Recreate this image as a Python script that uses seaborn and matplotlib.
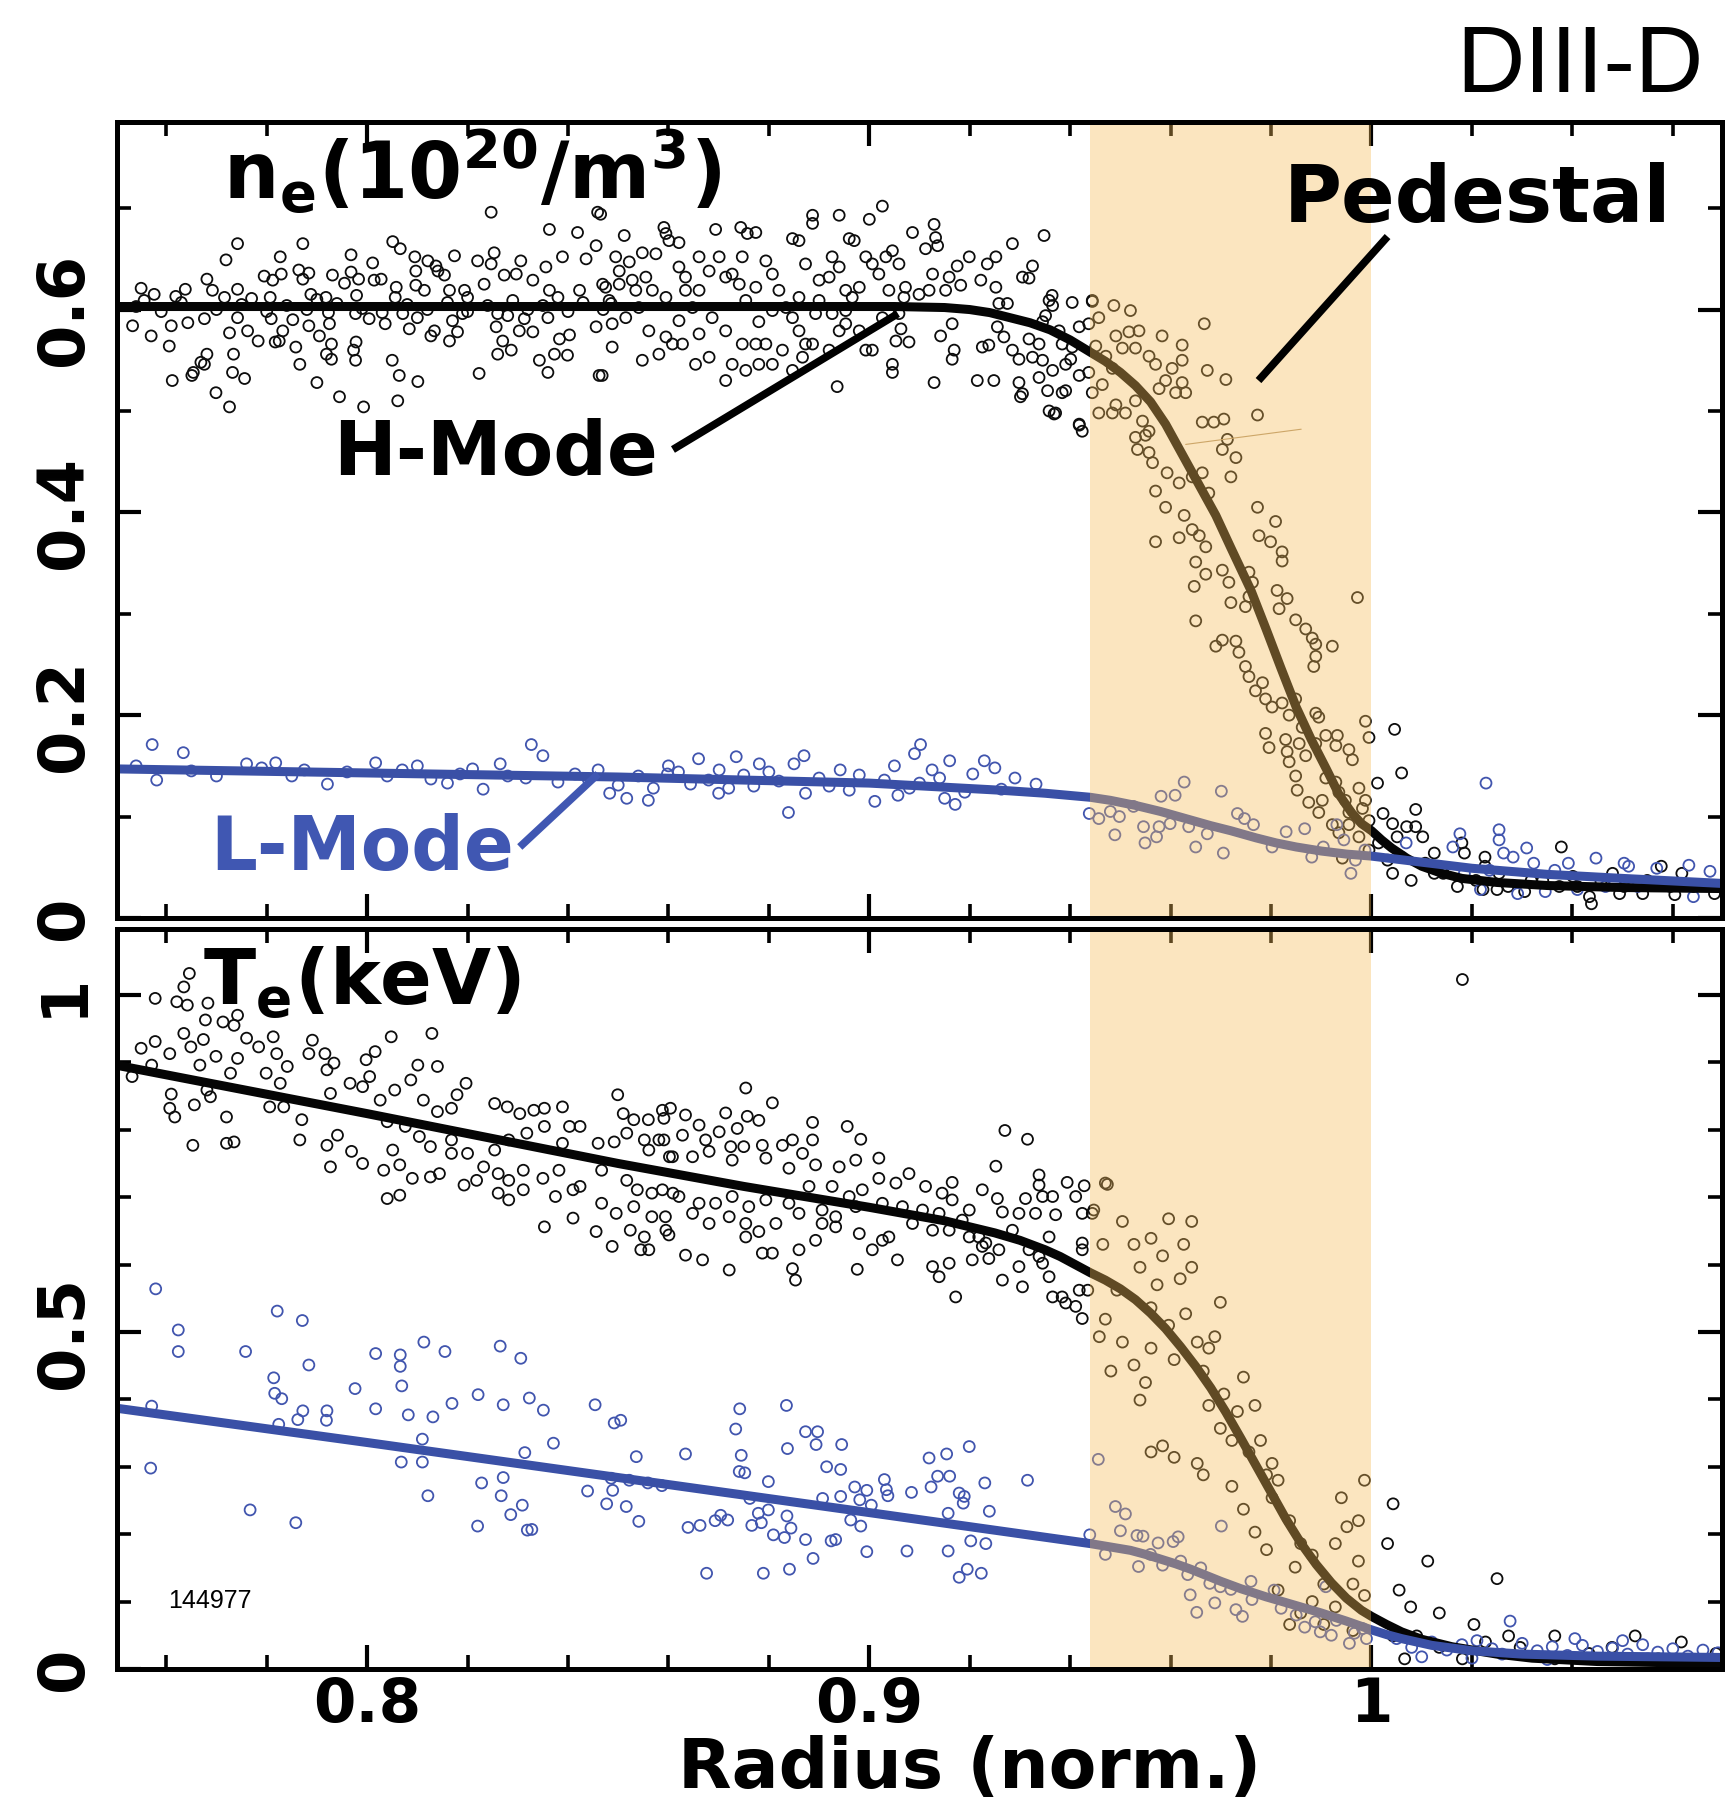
import matplotlib
matplotlib.use("Agg")
import numpy as np
import matplotlib.pyplot as plt
from matplotlib.ticker import MultipleLocator
import seaborn as sns

sns.set_theme(style="ticks")
plt.rcParams["font.family"] = ["DejaVu Sans"]
plt.rcParams["mathtext.fontset"] = "dejavusans"
plt.rcParams.update({"text.color": "black", "axes.labelcolor": "black",
                     "xtick.color": "black", "ytick.color": "black",
                     "axes.edgecolor": "black"})

# ---------------------------------------------------------------------------
# Shot 144977 edge profiles: (normalised radius, value) measurements
# ---------------------------------------------------------------------------
# Electron density, H-mode (10^20 m^-3)
ne_h = [
    (0.7550, 0.621), (0.7576, 0.615), (0.7556, 0.609), (0.7533, 0.584), (0.7570, 0.574), (0.7610, 0.584),
    (0.7606, 0.564), (0.7612, 0.530), (0.7619, 0.613), (0.7638, 0.620), (0.7643, 0.587), (0.7651, 0.535),
    (0.7654, 0.538), (0.7669, 0.548), (0.7681, 0.556), (0.7676, 0.546), (0.7681, 0.630), (0.7692, 0.619),
    (0.7676, 0.591), (0.7699, 0.518), (0.7719, 0.649), (0.7716, 0.612), (0.7726, 0.504), (0.7734, 0.556),
    (0.7732, 0.538), (0.7756, 0.532), (0.7742, 0.665), (0.7742, 0.620), (0.7742, 0.592), (0.7726, 0.577),
    (0.7762, 0.579), (0.7783, 0.569), (0.7795, 0.633), (0.7807, 0.612), (0.7812, 0.629), (0.7827, 0.652),
    (0.7829, 0.635), (0.7809, 0.591), (0.7817, 0.568), (0.7825, 0.569), (0.7832, 0.579), (0.7852, 0.590),
    (0.7858, 0.563), (0.7866, 0.546), (0.7872, 0.665), (0.7864, 0.639), (0.7884, 0.636), (0.7872, 0.630),
    (0.7888, 0.615), (0.7884, 0.584), (0.7905, 0.574), (0.7900, 0.528), (0.7918, 0.612), (0.7923, 0.597),
    (0.7925, 0.586), (0.7929, 0.566), (0.7919, 0.556), (0.7929, 0.551), (0.7931, 0.634), (0.7945, 0.514),
    (0.7955, 0.626), (0.7968, 0.654), (0.7968, 0.637), (0.7983, 0.630), (0.7979, 0.614), (0.7977, 0.596),
    (0.7978, 0.568), (0.7973, 0.560), (0.7977, 0.550), (0.7993, 0.504), (0.8004, 0.591), (0.8011, 0.646),
    (0.8014, 0.629), (0.8028, 0.630), (0.8036, 0.586), (0.8050, 0.550), (0.8051, 0.667), (0.8066, 0.660),
    (0.8058, 0.622), (0.8056, 0.612), (0.8064, 0.535), (0.8061, 0.510), (0.8101, 0.529), (0.8071, 0.596),
    (0.8084, 0.581), (0.8095, 0.652), (0.8097, 0.638), (0.8097, 0.624), (0.8114, 0.619), (0.8121, 0.648),
    (0.8137, 0.643), (0.8141, 0.638), (0.8134, 0.579), (0.8127, 0.574), (0.8154, 0.634), (0.8164, 0.619),
    (0.8164, 0.569), (0.8170, 0.589), (0.8174, 0.653), (0.8180, 0.578), (0.8190, 0.596), (0.8194, 0.619),
    (0.8220, 0.648), (0.8223, 0.537), (0.8233, 0.625), (0.8247, 0.696), (0.8253, 0.656), (0.8247, 0.645),
    (0.8257, 0.583), (0.8260, 0.556), (0.8270, 0.569), (0.8273, 0.634), (0.8280, 0.594), (0.8287, 0.560),
    (0.8306, 0.648), (0.8297, 0.635), (0.8313, 0.591), (0.8303, 0.579), (0.8330, 0.629), (0.8330, 0.578),
    (0.8343, 0.550), (0.8360, 0.538), (0.8363, 0.679), (0.8356, 0.642), (0.8363, 0.619), (0.8360, 0.592),
    (0.8373, 0.556), (0.8389, 0.652), (0.8383, 0.571), (0.8403, 0.575), (0.8399, 0.555), (0.8419, 0.676),
    (0.8423, 0.619), (0.8436, 0.650), (0.8456, 0.663), (0.8459, 0.696), (0.8456, 0.583), (0.8462, 0.535),
    (0.8469, 0.625), (0.8486, 0.606),
    (0.7540, 0.603), (0.7590, 0.598), (0.7630, 0.607), (0.7700, 0.600), (0.7750, 0.605), (0.7800, 0.598),
    (0.7840, 0.604), (0.7880, 0.600), (0.7940, 0.606), (0.7990, 0.601), (0.8030, 0.597), (0.8080, 0.605),
    (0.8120, 0.600), (0.8160, 0.607), (0.8200, 0.598), (0.8240, 0.604), (0.8290, 0.609), (0.8320, 0.600),
    (0.8350, 0.604), (0.8400, 0.598), (0.8430, 0.607), (0.8470, 0.600), (0.8200, 0.612), (0.8100, 0.592),
    (0.7900, 0.610), (0.7770, 0.611), (0.8380, 0.612), (0.8260, 0.596),
    (0.8465, 0.694), (0.8512, 0.673), (0.8591, 0.681), (0.8595, 0.675), (0.8601, 0.668), (0.8621, 0.666),
    (0.8694, 0.679), (0.8744, 0.681), (0.8757, 0.675), (0.8774, 0.676), (0.8847, 0.670), (0.8860, 0.668),
    (0.8887, 0.693), (0.8887, 0.685), (0.8940, 0.693), (0.9000, 0.689), (0.9026, 0.702), (0.8960, 0.670),
    (0.8970, 0.668), (0.9086, 0.676), (0.9129, 0.684), (0.9132, 0.671), (0.9136, 0.663), (0.9112, 0.660),
    (0.9199, 0.652), (0.9252, 0.652), (0.9235, 0.645), (0.9285, 0.665), (0.9348, 0.673), (0.9325, 0.643),
    (0.9305, 0.632), (0.9318, 0.631), (0.9175, 0.643), (0.9159, 0.632), (0.9126, 0.635), (0.9119, 0.619),
    (0.9152, 0.619), (0.9182, 0.624), (0.9222, 0.629), (0.9252, 0.622), (0.9258, 0.606), (0.9275, 0.606),
    (0.9404, 0.607), (0.9444, 0.609), (0.9165, 0.586), (0.9142, 0.574), (0.9169, 0.560), (0.9165, 0.551),
    (0.9072, 0.622), (0.9099, 0.615), (0.9069, 0.612), (0.9059, 0.596), (0.9063, 0.581), (0.9053, 0.569),
    (0.9079, 0.568), (0.9046, 0.546), (0.9046, 0.538), (0.8993, 0.560), (0.9006, 0.560), (0.8936, 0.524),
    (0.9129, 0.528), (0.9215, 0.530), (0.9248, 0.530), (0.9298, 0.528), (0.9305, 0.517), (0.9301, 0.514),
    (0.9358, 0.500), (0.9368, 0.497), (0.9391, 0.520), (0.9418, 0.487), (0.9225, 0.563), (0.9238, 0.565),
    (0.9255, 0.583), (0.9268, 0.573), (0.9285, 0.560), (0.9298, 0.551), (0.9318, 0.571), (0.9338, 0.566),
    (0.9345, 0.588), (0.9351, 0.594), (0.9358, 0.609), (0.9365, 0.604), (0.9378, 0.579), (0.9384, 0.566),
    (0.9391, 0.546), (0.9345, 0.550), (0.9338, 0.533), (0.9365, 0.540), (0.9404, 0.563), (0.9418, 0.583),
    (0.9418, 0.535), (0.9401, 0.551), (0.9325, 0.553), (0.9355, 0.520),
    (0.8495, 0.652), (0.8522, 0.647), (0.8548, 0.656), (0.8575, 0.655), (0.8555, 0.632), (0.8528, 0.629),
    (0.8502, 0.625), (0.8475, 0.622), (0.8482, 0.609), (0.8488, 0.586), (0.8515, 0.592), (0.8541, 0.602),
    (0.8561, 0.579), (0.8595, 0.573), (0.8621, 0.589), (0.8648, 0.602), (0.8661, 0.619), (0.8634, 0.632),
    (0.8661, 0.652), (0.8681, 0.638), (0.8701, 0.652), (0.8714, 0.632), (0.8727, 0.635), (0.8741, 0.625),
    (0.8754, 0.609), (0.8774, 0.622), (0.8794, 0.648), (0.8807, 0.635), (0.8820, 0.619), (0.8834, 0.602),
    (0.8847, 0.592), (0.8860, 0.579), (0.8873, 0.566), (0.8827, 0.560), (0.8794, 0.566), (0.8774, 0.566),
    (0.8747, 0.566), (0.8727, 0.546), (0.8754, 0.540), (0.8780, 0.546), (0.8807, 0.546), (0.8681, 0.553),
    (0.8654, 0.546), (0.8628, 0.566), (0.8608, 0.566), (0.8581, 0.556), (0.8548, 0.550), (0.8488, 0.563),
    (0.8468, 0.535), (0.8714, 0.530), (0.8847, 0.540), (0.8867, 0.553), (0.8887, 0.566), (0.8900, 0.609),
    (0.8920, 0.632), (0.8926, 0.652), (0.8940, 0.642), (0.8953, 0.619), (0.8966, 0.612), (0.8980, 0.622),
    (0.8993, 0.652), (0.9006, 0.645), (0.9019, 0.635), (0.9033, 0.652), (0.9046, 0.658), (0.9059, 0.645),
    (0.9039, 0.619), (0.9026, 0.592), (0.8980, 0.579), (0.8953, 0.586), (0.8926, 0.596), (0.8893, 0.596),
    (0.8860, 0.612), (0.8807, 0.599), (0.8780, 0.588), (0.8714, 0.579), (0.8687, 0.592), (0.8661, 0.576),
    (0.8634, 0.619), (0.8595, 0.612), (0.8568, 0.619), (0.8535, 0.619), (0.8502, 0.638), (0.8621, 0.642),
    (0.8747, 0.652), (0.8873, 0.645), (0.8900, 0.629), (0.8920, 0.560), (0.8940, 0.579), (0.8953, 0.599),
    (0.9364, 0.614), (0.9384, 0.518), (0.9371, 0.498), (0.9418, 0.486), (0.9424, 0.480),
    (0.9444, 0.608), (0.9487, 0.604), (0.9520, 0.599), (0.9457, 0.592), (0.9491, 0.574), (0.9517, 0.578),
    (0.9537, 0.579), (0.9583, 0.574), (0.9623, 0.565), (0.9667, 0.586), (0.9673, 0.540), (0.9710, 0.531),
    (0.9773, 0.496), (0.9663, 0.489), (0.9686, 0.489), (0.9706, 0.492), (0.9713, 0.472), (0.9703, 0.462),
    (0.9730, 0.454), (0.9720, 0.435), (0.9534, 0.462), (0.9557, 0.459), (0.9564, 0.449), (0.9593, 0.439),
    (0.9570, 0.421), (0.9590, 0.405), (0.9617, 0.429), (0.9643, 0.435), (0.9663, 0.439), (0.9676, 0.419),
    (0.9570, 0.371), (0.9617, 0.375), (0.9627, 0.397), (0.9643, 0.383), (0.9657, 0.377), (0.9670, 0.366),
    (0.9650, 0.351), (0.9647, 0.327), (0.9650, 0.293), (0.9773, 0.405), (0.9809, 0.391), (0.9776, 0.377),
    (0.9799, 0.371), (0.9822, 0.361), (0.9822, 0.352), (0.9670, 0.339), (0.9703, 0.343), (0.9716, 0.331),
    (0.9756, 0.341), (0.9763, 0.331), (0.9720, 0.311), (0.9749, 0.307), (0.9756, 0.317), (0.9812, 0.323),
    (0.9832, 0.315), (0.9816, 0.305), (0.9972, 0.316), (0.9849, 0.294), (0.9869, 0.285), (0.9882, 0.276),
    (0.9889, 0.270), (0.9922, 0.268), (0.9889, 0.258), (0.9885, 0.248), (0.9690, 0.268), (0.9703, 0.274),
    (0.9730, 0.273), (0.9736, 0.262), (0.9749, 0.248), (0.9756, 0.238), (0.9783, 0.232), (0.9769, 0.224),
    (0.9789, 0.216), (0.9802, 0.208), (0.9822, 0.212), (0.9849, 0.216), (0.9836, 0.200), (0.9889, 0.202),
    (0.9895, 0.198), (0.9862, 0.188), (0.9789, 0.182), (0.9796, 0.168), (0.9829, 0.176), (0.9832, 0.164),
    (0.9836, 0.154), (0.9856, 0.172), (0.9869, 0.160), (0.9889, 0.172), (0.9909, 0.180), (0.9932, 0.180),
    (0.9929, 0.170), (0.9955, 0.166), (0.9962, 0.156), (0.9988, 0.194), (0.9995, 0.178), (0.9849, 0.140),
    (0.9852, 0.126), (0.9875, 0.114), (0.9902, 0.116), (0.9909, 0.138), (0.9929, 0.134), (0.9935, 0.124),
    (0.9948, 0.116), (0.9955, 0.104), (0.9975, 0.128), (0.9988, 0.116), (0.9895, 0.104), (0.9922, 0.092),
    (0.9935, 0.084), (0.9955, 0.092), (0.9982, 0.108), (0.9995, 0.096), (0.9975, 0.080), (0.9995, 0.067),
    (0.9942, 0.059), (0.9437, 0.586), (0.9451, 0.564), (0.9471, 0.554), (0.9484, 0.542), (0.9504, 0.562),
    (0.9530, 0.562), (0.9557, 0.554), (0.9570, 0.546), (0.9603, 0.542), (0.9623, 0.550), (0.9444, 0.518),
    (0.9464, 0.526), (0.9491, 0.506), (0.9510, 0.498), (0.9530, 0.510), (0.9544, 0.490), (0.9557, 0.480),
    (0.9577, 0.522), (0.9590, 0.530), (0.9610, 0.518), (0.9630, 0.518), (0.9623, 0.528), (0.9437, 0.538),
    (0.9457, 0.498), (0.9484, 0.498), (0.9530, 0.474), (0.9550, 0.476),
    (1.0046, 0.186), (1.0060, 0.143), (1.0012, 0.133), (1.0088, 0.107), (1.0070, 0.090), (1.0088, 0.090),
    (1.0102, 0.080), (1.0023, 0.103), (1.0042, 0.093), (1.0051, 0.080), (1.0014, 0.074), (1.0032, 0.057),
    (1.0042, 0.044), (1.0079, 0.037), (1.0125, 0.064), (1.0143, 0.044), (1.0180, 0.074), (1.0185, 0.064),
    (1.0226, 0.060), (1.0226, 0.051), (1.0254, 0.044), (1.0222, 0.028), (1.0250, 0.028), (1.0305, 0.026),
    (1.0378, 0.070), (1.0401, 0.041), (1.0438, 0.014), (1.0434, 0.021), (1.0480, 0.044), (1.0494, 0.024),
    (1.0540, 0.024), (1.0577, 0.051), (1.0618, 0.044), (1.0604, 0.023), (1.0683, 0.024), (1.0341, 0.037),
    (1.0374, 0.031), (1.0457, 0.036), (1.0549, 0.037), (1.0641, 0.031), (1.0208, 0.037), (1.0272, 0.031),
    (1.0318, 0.037), (1.0410, 0.031), (1.0503, 0.031), (1.0595, 0.031), (1.0171, 0.031), (1.0125, 0.044),
    (1.0107, 0.054),
]

# Electron density, L-mode (10^20 m^-3)
ne_l = [
    (0.7572, 0.171), (0.7634, 0.163), (0.7581, 0.136), (0.7760, 0.152), (0.7818, 0.153), (0.7875, 0.146),
    (0.7921, 0.132), (0.8017, 0.153), (0.8070, 0.146), (0.8127, 0.137), (0.8185, 0.142), (0.8265, 0.152),
    (0.8327, 0.171), (0.8316, 0.138), (0.8231, 0.127), (0.8414, 0.142), (0.8483, 0.123), (0.8517, 0.118),
    (0.8598, 0.142), (0.8644, 0.132), (0.8701, 0.146), (0.8735, 0.159), (0.8781, 0.152), (0.8839, 0.104),
    (0.8873, 0.123), (0.8942, 0.146), (0.9011, 0.115), (0.9057, 0.121), (0.9102, 0.171), (0.9125, 0.146),
    (0.9171, 0.112), (0.9206, 0.142), (0.9229, 0.155), (0.9263, 0.127), (0.9332, 0.132),
    (0.7540, 0.150), (0.7650, 0.145), (0.7700, 0.140), (0.7790, 0.148), (0.7850, 0.140), (0.7960, 0.144),
    (0.8040, 0.140), (0.8100, 0.150), (0.8160, 0.133), (0.8210, 0.147), (0.8280, 0.140), (0.8350, 0.160),
    (0.8380, 0.134), (0.8440, 0.137), (0.8460, 0.146), (0.8500, 0.131), (0.8540, 0.140), (0.8570, 0.128),
    (0.8620, 0.144), (0.8660, 0.157), (0.8680, 0.136), (0.8720, 0.128), (0.8750, 0.141), (0.8770, 0.130),
    (0.8800, 0.144), (0.8820, 0.135), (0.8850, 0.152), (0.8900, 0.138), (0.8920, 0.130), (0.8960, 0.126),
    (0.8980, 0.141), (0.9030, 0.136), (0.9050, 0.150), (0.9080, 0.128), (0.9090, 0.162), (0.9140, 0.138),
    (0.9160, 0.155), (0.9190, 0.124), (0.9250, 0.148), (0.9290, 0.138), (0.9150, 0.118), (0.9100, 0.133),
    (0.8870, 0.160), (0.8700, 0.123), (0.8600, 0.150), (0.8560, 0.116),
    (0.9627, 0.134), (0.9581, 0.120), (0.9609, 0.121), (0.9438, 0.103), (0.9457, 0.098), (0.9480, 0.105),
    (0.9498, 0.100), (0.9489, 0.082), (0.9546, 0.090), (0.9549, 0.074), (0.9577, 0.090), (0.9572, 0.080),
    (0.9599, 0.093), (0.9636, 0.090), (0.9650, 0.070), (0.9673, 0.083), (0.9705, 0.064), (0.9701, 0.125),
    (0.9733, 0.103), (0.9747, 0.098), (0.9802, 0.070), (0.9830, 0.085), (0.9867, 0.088), (0.9881, 0.060),
    (0.9904, 0.070), (0.9931, 0.092), (0.9945, 0.077), (0.9959, 0.044), (0.9968, 0.057), (0.9987, 0.067),
    (0.9526, 0.110), (0.9765, 0.092),
    (1.0228, 0.133), (1.0176, 0.083), (1.0254, 0.087), (1.0254, 0.077), (1.0263, 0.064), (1.0309, 0.069),
    (1.0282, 0.060), (1.0323, 0.054), (1.0365, 0.047), (1.0447, 0.059), (1.0503, 0.054), (1.0512, 0.051),
    (1.0568, 0.049), (1.0632, 0.052), (1.0674, 0.046), (1.0641, 0.021), (1.0217, 0.028), (1.0291, 0.024),
    (1.0346, 0.026), (1.0410, 0.028), (1.0466, 0.031), (1.0530, 0.031), (1.0595, 0.033), (1.0162, 0.070),
    (1.0185, 0.044), (1.0235, 0.047), (1.0392, 0.054), (1.0069, 0.074), (1.0060, 0.060),
]

# Electron temperature, H-mode (keV)
te_h = [
    (0.7646, 1.032), (0.7635, 1.012), (0.7578, 0.995), (0.7621, 0.990), (0.7642, 0.985), (0.7683, 0.988),
    (0.7678, 0.963), (0.7713, 0.960), (0.7735, 0.955), (0.7742, 0.970), (0.7635, 0.943), (0.7674, 0.934),
    (0.7649, 0.923), (0.7607, 0.913), (0.7578, 0.931), (0.7550, 0.921), (0.7571, 0.896), (0.7532, 0.879),
    (0.7610, 0.853), (0.7607, 0.832), (0.7617, 0.819), (0.7656, 0.837), (0.7688, 0.849), (0.7681, 0.859),
    (0.7667, 0.896), (0.7699, 0.909), (0.7728, 0.884), (0.7742, 0.906), (0.7720, 0.819), (0.7653, 0.777),
    (0.7720, 0.780), (0.7735, 0.782), (0.7760, 0.936), (0.7784, 0.923), (0.7813, 0.938), (0.7820, 0.913),
    (0.7799, 0.884), (0.7841, 0.894), (0.7827, 0.869), (0.7806, 0.834), (0.7834, 0.834), (0.7870, 0.815),
    (0.7866, 0.785), (0.7884, 0.913), (0.7891, 0.933), (0.7916, 0.913), (0.7934, 0.899), (0.7920, 0.889),
    (0.7927, 0.854), (0.7920, 0.777), (0.7941, 0.792), (0.7927, 0.745), (0.7966, 0.869), (0.7991, 0.864),
    (0.7998, 0.904), (0.8016, 0.916), (0.8005, 0.879), (0.8026, 0.844), (0.8048, 0.938), (0.8055, 0.859),
    (0.8087, 0.874), (0.8101, 0.896), (0.8140, 0.894), (0.8129, 0.943), (0.8112, 0.844), (0.8140, 0.827),
    (0.8179, 0.852), (0.8197, 0.869), (0.8168, 0.832), (0.8040, 0.812), (0.8076, 0.805), (0.8051, 0.770),
    (0.7969, 0.768), (0.7991, 0.750), (0.8033, 0.740), (0.8065, 0.748), (0.8040, 0.698), (0.8065, 0.703),
    (0.8104, 0.790), (0.8126, 0.775), (0.8090, 0.728), (0.8126, 0.730), (0.8144, 0.735), (0.8168, 0.785),
    (0.8168, 0.765), (0.8200, 0.765), (0.8193, 0.718), (0.8218, 0.725), (0.8254, 0.839), (0.8279, 0.834),
    (0.8304, 0.824), (0.8332, 0.829), (0.8353, 0.832), (0.8389, 0.834), (0.8403, 0.805), (0.8424, 0.805),
    (0.8254, 0.770), (0.8282, 0.785), (0.8318, 0.795), (0.8353, 0.805), (0.8389, 0.780), (0.8232, 0.745),
    (0.8261, 0.735), (0.8282, 0.725), (0.8311, 0.740), (0.8350, 0.728), (0.8382, 0.740), (0.8410, 0.711),
    (0.8282, 0.696), (0.8261, 0.706), (0.8311, 0.711), (0.8353, 0.656), (0.8410, 0.669), (0.8456, 0.649),
    (0.8375, 0.701), (0.8424, 0.716), (0.8460, 0.780), (0.8492, 0.782), (0.8499, 0.852), (0.8510, 0.824),
    (0.8531, 0.815), (0.8560, 0.815), (0.8588, 0.829), (0.8517, 0.795), (0.8552, 0.785), (0.8581, 0.785),
    (0.8467, 0.740), (0.8517, 0.725), (0.8538, 0.711), (0.8567, 0.706), (0.8467, 0.691), (0.8496, 0.676),
    (0.8524, 0.651), (0.8552, 0.641), (0.8488, 0.627), (0.8545, 0.622), (0.8531, 0.686), (0.8567, 0.671),
    (0.8595, 0.651), (0.8609, 0.706), (0.8602, 0.760),
    (0.8754, 0.862), (0.8807, 0.840), (0.8604, 0.832), (0.8634, 0.822), (0.8591, 0.817), (0.8714, 0.825),
    (0.8757, 0.820), (0.8780, 0.814), (0.8737, 0.802), (0.8661, 0.807), (0.8701, 0.797), (0.8887, 0.811),
    (0.8956, 0.805), (0.8983, 0.786), (0.9270, 0.799), (0.9315, 0.786), (0.8591, 0.785), (0.8628, 0.792),
    (0.8674, 0.785), (0.8724, 0.775), (0.8750, 0.775), (0.8787, 0.777), (0.8827, 0.777), (0.8847, 0.785),
    (0.8887, 0.785), (0.9252, 0.746), (0.8561, 0.770), (0.8608, 0.760), (0.8648, 0.760), (0.8681, 0.768),
    (0.8727, 0.755), (0.8794, 0.758), (0.8840, 0.743), (0.8867, 0.765), (0.8893, 0.748), (0.8973, 0.755),
    (0.9019, 0.758), (0.8940, 0.745), (0.9079, 0.735), (0.9019, 0.728), (0.9053, 0.721), (0.9165, 0.722),
    (0.9225, 0.711), (0.9338, 0.733), (0.9338, 0.718), (0.9394, 0.722), (0.9428, 0.717), (0.9474, 0.719),
    (0.9112, 0.716), (0.9145, 0.706), (0.9165, 0.696), (0.9199, 0.681), (0.9255, 0.698), (0.9265, 0.678),
    (0.9311, 0.698), (0.9345, 0.701), (0.9365, 0.701), (0.9411, 0.701), (0.9298, 0.676), (0.9331, 0.676),
    (0.9371, 0.674), (0.9424, 0.676), (0.9444, 0.676), (0.8588, 0.711), (0.8621, 0.701), (0.8661, 0.691),
    (0.8694, 0.691), (0.8727, 0.701), (0.8760, 0.686), (0.8794, 0.696), (0.8840, 0.691), (0.8880, 0.716),
    (0.8926, 0.716), (0.8960, 0.701), (0.8986, 0.711), (0.8594, 0.671), (0.8648, 0.676), (0.8681, 0.661),
    (0.8721, 0.671), (0.8754, 0.661), (0.8780, 0.649), (0.8814, 0.661), (0.8860, 0.676), (0.8906, 0.681),
    (0.8933, 0.671), (0.8973, 0.686), (0.9026, 0.691), (0.9066, 0.686), (0.9106, 0.681), (0.9139, 0.676),
    (0.8561, 0.622), (0.8601, 0.644), (0.8634, 0.614), (0.8668, 0.607), (0.8721, 0.592), (0.8754, 0.641),
    (0.8787, 0.617), (0.8807, 0.617), (0.8847, 0.594), (0.8853, 0.577), (0.8860, 0.622), (0.8893, 0.636),
    (0.8906, 0.661), (0.8933, 0.656), (0.8980, 0.646), (0.9006, 0.622), (0.9026, 0.636), (0.9039, 0.641),
    (0.9086, 0.661), (0.9126, 0.651), (0.9159, 0.651), (0.9199, 0.641), (0.9225, 0.627), (0.9258, 0.622),
    (0.9238, 0.609), (0.9265, 0.577), (0.9056, 0.607), (0.8976, 0.593), (0.9126, 0.597), (0.9139, 0.582),
    (0.9159, 0.602), (0.9172, 0.552), (0.9205, 0.607), (0.9298, 0.597), (0.9305, 0.567), (0.9345, 0.602),
    (0.9358, 0.582), (0.9365, 0.552), (0.9384, 0.552), (0.9391, 0.543), (0.9411, 0.538), (0.9418, 0.562),
    (0.9424, 0.520), (0.9424, 0.622), (0.9424, 0.632), (0.9232, 0.632), (0.9185, 0.666), (0.9218, 0.641),
    (0.9318, 0.622), (0.9338, 0.612), (0.9358, 0.641), (0.9285, 0.651),
    (0.9470, 0.721), (0.9447, 0.681), (0.9504, 0.664), (0.9465, 0.630), (0.9527, 0.630), (0.9561, 0.639),
    (0.9584, 0.613), (0.9626, 0.630), (0.9619, 0.579), (0.9596, 0.668), (0.9573, 0.570), (0.9539, 0.596),
    (0.9493, 0.562), (0.9470, 0.519), (0.9504, 0.485), (0.9527, 0.451), (0.9550, 0.425), (0.9539, 0.399),
    (0.9561, 0.536), (0.9596, 0.510), (0.9630, 0.527), (0.9653, 0.485), (0.9665, 0.442), (0.9688, 0.493),
    (0.9699, 0.544), (0.9676, 0.391), (0.9653, 0.305), (0.9665, 0.288), (0.9607, 0.314), (0.9699, 0.357),
    (0.9733, 0.382), (0.9745, 0.433), (0.9756, 0.322), (0.9779, 0.339), (0.9791, 0.288), (0.9802, 0.254),
    (0.9814, 0.280), (0.9722, 0.271), (0.9745, 0.237), (0.9768, 0.203), (0.9791, 0.177), (0.9837, 0.220),
    (0.9859, 0.186), (0.9848, 0.151), (0.9882, 0.169), (0.9905, 0.126), (0.9928, 0.186), (0.9951, 0.211),
    (0.9974, 0.160), (0.9963, 0.126), (0.9986, 0.109), (0.9928, 0.092), (0.9882, 0.100), (0.9859, 0.083),
    (0.9837, 0.066), (0.9905, 0.066), (0.9963, 0.057), (0.9986, 0.280), (0.9974, 0.220), (0.9940, 0.254),
    (0.9458, 0.493), (0.9435, 0.562), (0.9481, 0.442), (0.9561, 0.322), (0.9584, 0.331), (0.9642, 0.664),
    (0.9642, 0.596), (0.9722, 0.339), (0.9814, 0.117), (0.9802, 0.305), (0.9768, 0.391), (0.9706, 0.408),
    (0.9676, 0.476), (0.9607, 0.459), (0.9561, 0.476),
    (1.0181, 1.023), (1.0043, 0.245), (1.0112, 0.160), (1.0032, 0.186), (1.0055, 0.117), (1.0078, 0.092),
    (1.0135, 0.083), (1.0090, 0.049), (1.0250, 0.134), (1.0204, 0.066), (1.0273, 0.049), (1.0365, 0.049),
    (1.0479, 0.032), (1.0617, 0.040), (1.0433, 0.023), (1.0296, 0.032), (1.0135, 0.032), (1.0181, 0.015),
    (1.0365, 0.015), (1.0571, 0.015), (1.0686, 0.023), (1.0066, 0.015), (1.0043, 0.049), (1.0227, 0.040),
    (1.0525, 0.049),
]

# Electron temperature, L-mode (keV)
te_l = [
    (0.7579, 0.564), (0.7624, 0.503), (0.7624, 0.471), (0.7571, 0.390), (0.7569, 0.298), (0.7758, 0.471),
    (0.7821, 0.531), (0.7871, 0.517), (0.7884, 0.451), (0.7814, 0.432), (0.7816, 0.409), (0.7830, 0.401),
    (0.7824, 0.363), (0.7862, 0.370), (0.7872, 0.383), (0.7920, 0.383), (0.7919, 0.369), (0.7767, 0.236),
    (0.7858, 0.217), (0.7976, 0.416), (0.8017, 0.468), (0.8066, 0.466), (0.8066, 0.449), (0.8069, 0.420),
    (0.8113, 0.485), (0.8155, 0.471), (0.8017, 0.386), (0.8082, 0.377), (0.8131, 0.374), (0.8110, 0.341),
    (0.8068, 0.307), (0.8110, 0.307), (0.8121, 0.257), (0.8169, 0.394), (0.8221, 0.407), (0.8265, 0.479),
    (0.8306, 0.461), (0.8271, 0.392), (0.8323, 0.402), (0.8351, 0.384), (0.8228, 0.276), (0.8271, 0.284),
    (0.8267, 0.257), (0.8309, 0.243), (0.8286, 0.229), (0.8220, 0.212), (0.8319, 0.206), (0.8328, 0.207),
    (0.8371, 0.335), (0.8314, 0.321), (0.8454, 0.392), (0.8492, 0.365), (0.8505, 0.369), (0.8536, 0.315),
    (0.8486, 0.283), (0.8522, 0.280), (0.8559, 0.276), (0.8587, 0.272), (0.8489, 0.265), (0.8439, 0.264),
    (0.8477, 0.245), (0.8516, 0.241), (0.8541, 0.219), (0.8634, 0.319), (0.8639, 0.210), (0.8663, 0.213),
    (0.8676, 0.142), (0.8693, 0.220), (0.8704, 0.228), (0.8718, 0.221), (0.8742, 0.386), (0.8734, 0.356),
    (0.8745, 0.317), (0.8741, 0.293), (0.8752, 0.291), (0.8799, 0.278), (0.8762, 0.253), (0.8779, 0.231),
    (0.8766, 0.213), (0.8785, 0.217), (0.8835, 0.391), (0.8837, 0.327), (0.8873, 0.352), (0.8897, 0.352),
    (0.8894, 0.333), (0.8945, 0.333), (0.8915, 0.300), (0.8943, 0.296), (0.8799, 0.236), (0.8836, 0.227),
    (0.8844, 0.209), (0.8809, 0.199), (0.8831, 0.195), (0.8873, 0.192), (0.8888, 0.164), (0.8789, 0.142),
    (0.8841, 0.148), (0.8907, 0.253), (0.8943, 0.256), (0.8924, 0.190), (0.8933, 0.192), (0.8971, 0.270),
    (0.8995, 0.265), (0.8981, 0.251), (0.9004, 0.243), (0.8983, 0.212), (0.8963, 0.221), (0.8995, 0.174),
    (0.9030, 0.281), (0.9034, 0.266), (0.9037, 0.257), (0.9084, 0.262), (0.9075, 0.175), (0.9119, 0.313),
    (0.9123, 0.270), (0.9154, 0.319), (0.9136, 0.286), (0.9160, 0.286), (0.9199, 0.330), (0.9179, 0.261),
    (0.9189, 0.256), (0.9187, 0.246), (0.9157, 0.231), (0.9230, 0.276), (0.9239, 0.234), (0.9202, 0.190),
    (0.9232, 0.186), (0.9157, 0.175), (0.9195, 0.148), (0.9179, 0.136), (0.9223, 0.142), (0.9315, 0.280),
    (0.9439, 0.199), (0.9456, 0.311),
    (0.9490, 0.241), (0.9510, 0.230), (0.9536, 0.152), (0.9584, 0.154), (0.9575, 0.187), (0.9533, 0.198),
    (0.9545, 0.197), (0.9605, 0.189), (0.9615, 0.196), (0.9634, 0.140), (0.9639, 0.110), (0.9652, 0.084),
    (0.9688, 0.098), (0.9699, 0.122), (0.9678, 0.127), (0.9701, 0.212), (0.9730, 0.088), (0.9743, 0.078),
    (0.9762, 0.103), (0.9806, 0.117), (0.9867, 0.062), (0.9898, 0.055), (0.9888, 0.070), (0.9909, 0.122),
    (0.9956, 0.038), (0.9966, 0.053), (0.9982, 0.060), (0.9560, 0.170), (0.9620, 0.160), (0.9660, 0.150),
    (0.9720, 0.118), (0.9760, 0.130), (0.9820, 0.090), (0.9850, 0.080), (0.9930, 0.072), (0.9990, 0.045),
    (0.9470, 0.170), (0.9500, 0.205), (0.9920, 0.050),
    (1.0276, 0.071), (1.0050, 0.045), (1.0080, 0.032), (1.0120, 0.040), (1.0150, 0.028), (1.0180, 0.036),
    (1.0210, 0.042), (1.0240, 0.030), (1.0260, 0.022), (1.0300, 0.038), (1.0330, 0.027), (1.0360, 0.033),
    (1.0390, 0.020), (1.0420, 0.035), (1.0450, 0.026), (1.0480, 0.031), (1.0510, 0.022), (1.0540, 0.036),
    (1.0570, 0.025), (1.0600, 0.030), (1.0630, 0.019), (1.0660, 0.028), (1.0690, 0.024), (1.0405, 0.045),
    (1.0500, 0.042), (1.0100, 0.018), (1.0200, 0.016), (1.0350, 0.014), (1.0550, 0.015),
]

# Fitted profiles (knots along each fit curve)
ne_h_fit_r = [0.750, 0.800, 0.850, 0.900, 0.905, 0.915, 0.920, 0.924, 0.928, 0.932, 0.936, 0.940, 0.944,
              0.947, 0.950, 0.953, 0.956, 0.959, 0.962, 0.965, 0.969, 0.972, 0.976, 0.979, 0.982, 0.985,
              0.988, 0.991, 0.9935, 0.996, 0.998, 1.000, 1.002, 1.004, 1.007, 1.010, 1.014, 1.018, 1.025,
              1.035, 1.050, 1.070]
ne_h_fit_v = [0.603, 0.603, 0.603, 0.603, 0.603, 0.602, 0.600, 0.597, 0.592, 0.587, 0.580, 0.570, 0.558,
              0.549, 0.538, 0.525, 0.509, 0.487, 0.460, 0.433, 0.397, 0.365, 0.323, 0.285, 0.246, 0.208,
              0.176, 0.147, 0.122, 0.104, 0.093, 0.086, 0.077, 0.069, 0.059, 0.051, 0.044, 0.039, 0.035,
              0.032, 0.030, 0.029]
ne_l_fit_r = [0.750, 0.800, 0.850, 0.900, 0.926, 0.935, 0.944, 0.948, 0.953, 0.958, 0.963, 0.968, 0.972,
              0.977, 0.981, 0.985, 0.990, 0.995, 1.000, 1.010, 1.020, 1.035, 1.050, 1.070]
ne_l_fit_v = [0.147, 0.143, 0.139, 0.133, 0.126, 0.123, 0.119, 0.116, 0.111, 0.105, 0.098, 0.091, 0.086,
              0.079, 0.074, 0.070, 0.066, 0.063, 0.061, 0.055, 0.049, 0.043, 0.039, 0.034]
te_h_fit_r = [0.750, 0.775, 0.800, 0.825, 0.850, 0.875, 0.900, 0.915, 0.925, 0.930, 0.935, 0.938, 0.941,
              0.944, 0.947, 0.950, 0.953, 0.956, 0.959, 0.962, 0.965, 0.968, 0.971, 0.974, 0.977, 0.980,
              0.983, 0.986, 0.989, 0.992, 0.995, 0.998, 1.000, 1.003, 1.006, 1.010, 1.016, 1.025, 1.032,
              1.045, 1.070]
te_h_fit_v = [0.896, 0.860, 0.824, 0.787, 0.750, 0.716, 0.685, 0.665, 0.647, 0.636, 0.622, 0.612, 0.600,
              0.588, 0.577, 0.564, 0.548, 0.528, 0.505, 0.478, 0.449, 0.417, 0.381, 0.342, 0.302, 0.262,
              0.222, 0.186, 0.155, 0.128, 0.105, 0.087, 0.078, 0.066, 0.055, 0.044, 0.033, 0.022, 0.016,
              0.011, 0.008]
te_l_fit_r = [0.750, 0.800, 0.850, 0.900, 0.944, 0.948, 0.952, 0.955, 0.958, 0.961, 0.964, 0.967, 0.970,
              0.974, 0.979, 0.985, 0.990, 0.995, 1.000, 1.003, 1.006, 1.012, 1.020, 1.030, 1.045, 1.070]
te_l_fit_v = [0.387, 0.336, 0.284, 0.232, 0.186, 0.181, 0.176, 0.170, 0.163, 0.156, 0.148, 0.139, 0.130,
              0.119, 0.107, 0.094, 0.083, 0.071, 0.058, 0.051, 0.045, 0.035, 0.027, 0.022, 0.019, 0.017]

pedestal = (0.944, 1.0)
x_major = [0.8, 0.9, 1.0]
x_major_labels = ["0.8", "0.9", "1"]
ne_ticks = [0.0, 0.2, 0.4, 0.6]
ne_tick_labels = ["0", "0.2", "0.4", "0.6"]
te_ticks = [0.0, 0.5, 1.0]
te_tick_labels = ["0", "0.5", "1"]

BLACK = "#0d0d0d"
BLUE = "#4155ae"
BLUE_LINE = "#3a50a6"
BAND = "#f5bb58"

fig = plt.figure(figsize=(17.26, 18.07), dpi=100)
ax_n = fig.add_axes([0.0678, 0.492, 0.9299, 0.4405])
ax_t = fig.add_axes([0.0678, 0.0764, 0.9299, 0.4095])


def rings(ax, pts, color):
    arr = np.array(pts)
    sns.scatterplot(x=arr[:, 0], y=arr[:, 1], ax=ax, marker="o", s=62,
                    linewidth=1.3, zorder=3, legend=False)
    coll = ax.collections[-1]
    coll.set_facecolor("none")
    coll.set_edgecolor(color)


def fit(ax, r, v, color):
    sns.lineplot(x=r, y=v, ax=ax, color=color, lw=6.5, estimator=None, sort=False,
                 zorder=4, solid_capstyle="butt", solid_joinstyle="round")


# density panel
rings(ax_n, ne_h, BLACK)
rings(ax_n, ne_l, BLUE)
fit(ax_n, ne_h_fit_r, ne_h_fit_v, "#050505")
fit(ax_n, ne_l_fit_r, ne_l_fit_v, BLUE_LINE)

# temperature panel
rings(ax_t, te_h, BLACK)
rings(ax_t, te_l, BLUE)
fit(ax_t, te_h_fit_r, te_h_fit_v, "#050505")
fit(ax_t, te_l_fit_r, te_l_fit_v, BLUE_LINE)

for ax, ymax, yt, ytl in [(ax_n, 0.785, ne_ticks, ne_tick_labels),
                          (ax_t, 1.098, te_ticks, te_tick_labels)]:
    ax.set_xlim(0.7502, 1.0698)
    ax.set_ylim(0, ymax)
    ax.axvspan(*pedestal, color=BAND, alpha=0.38, lw=0, zorder=6)
    ax.set_xticks(x_major)
    ax.xaxis.set_minor_locator(MultipleLocator(0.02))
    ax.set_yticks(yt)
    ax.set_yticklabels(ytl, rotation=90, va="center", fontsize=46, fontweight="bold")
    ax.yaxis.set_minor_locator(MultipleLocator(0.1))
    ax.tick_params(which="both", direction="in", top=True, right=True, color="black")
    ax.tick_params(which="major", length=17, width=3.0)
    ax.tick_params(which="minor", length=10, width=2.6)
    ax.tick_params(axis="y", pad=16)
    for sp in ax.spines.values():
        sp.set_linewidth(3.6)
        sp.set_color("black")
        sp.set_zorder(7)
    ax.set_xlabel("")
    ax.set_ylabel("")

ax_n.tick_params(axis="x", labelbottom=False)
ax_t.set_xticklabels(x_major_labels, fontsize=44, fontweight="bold")
ax_t.tick_params(axis="x", pad=5)
ax_t.set_xlabel("Radius (norm.)", fontsize=50, fontweight="bold")
ax_t.xaxis.set_label_coords(0.531, -0.1605)
ax_t.xaxis.label.set_va("baseline")

# panel titles
ax_n.text(0.7714, 0.708, r"$\mathbf{n_e(10^{20}/m^3)}$", fontsize=56, ha="left",
          va="baseline", zorder=8)
ax_t.text(0.7673, 0.985, r"$\mathbf{T_e(keV)}$", fontsize=55, ha="left",
          va="baseline", zorder=8)

# annotations
ax_n.text(0.9825, 0.686, "Pedestal", fontsize=57, fontweight="bold", ha="left",
          va="baseline", zorder=8)
ax_n.plot([1.0032, 0.9775], [0.672, 0.530], color="black", lw=5.5, zorder=8,
          solid_capstyle="butt")
ax_n.plot([0.9630, 0.9860], [0.467, 0.482], color="#b59a72", lw=0.8, zorder=5)
ax_n.text(0.7932, 0.437, "H-Mode", fontsize=54, fontweight="bold", ha="left",
          va="baseline", zorder=8)
ax_n.plot([0.8609, 0.9057], [0.462, 0.596], color="black", lw=5.5, zorder=8,
          solid_capstyle="butt")
ax_n.text(0.7687, 0.047, "L-Mode", fontsize=53, fontweight="bold", ha="left",
          va="baseline", color="#4057b2", zorder=8)
ax_n.plot([0.8304, 0.8460], [0.070, 0.142], color="#4057b2", lw=5.5, zorder=8,
          solid_capstyle="butt")

ax_t.text(0.7604, 0.101, "144977", fontsize=18, ha="left", va="center",
          family=["Liberation Sans", "DejaVu Sans"], zorder=8)

fig.text(0.987, 0.949, "DIII-D", fontsize=68, ha="right", va="baseline",
         family=["Liberation Sans", "DejaVu Sans"])

fig.savefig("out.png", dpi=100, facecolor="white")
